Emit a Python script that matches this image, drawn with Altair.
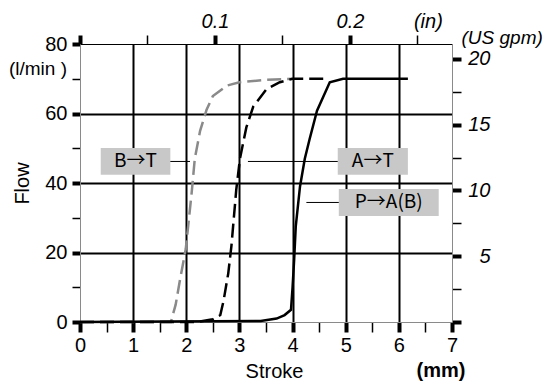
import altair as alt
import pandas as pd

# ---- curves (stroke in mm, flow in l/min) ----
bt_stroke = [0, 1.71, 1.80, 1.88, 1.99, 2.10, 2.16, 2.26, 2.38, 2.50, 2.76, 3.00, 3.50, 4.00]
bt_flow   = [0, 0,    5,    12,   21,   37,   47,   55,   61,   65,   68,   69,   69.7, 70]

at_stroke = [0, 2.20, 2.50, 2.64, 2.70, 2.79, 2.85, 2.94, 3.01, 3.13, 3.26, 3.51, 3.76, 4.00, 4.60]
at_flow   = [0, 0,    0.8,  2,    6,    14,   22,   38,   47,   56,   62,   67,   69,   70,   70]

pa_stroke = [0, 3.40, 3.70, 3.85, 3.97, 4.00, 4.03, 4.06, 4.14, 4.23, 4.32, 4.46, 4.70, 4.95, 6.17]
pa_flow   = [0, 0.3,  1.0,  2.0,  3.5,  10,   18,   27.5, 39,   47,   52.6, 60.8, 69,   70,   70]

# ---- annotations ----
label_text = ["B→T", "A→T", "P→A(B)"]
box_x0 = [0.39, 4.85, 4.87]
box_x1 = [1.70, 6.17, 6.75]
box_y0 = [42.4, 42.4, 30.5]
box_y1 = [50.1, 50.1, 38.3]
lead_x0 = [1.70, 3.16, 4.26]
lead_x1 = [2.07, 4.85, 4.87]
lead_y = [46.2, 46.2, 34.4]

# ---- axis ticks ----
mm_ticks = [0, 0.5, 1, 1.5, 2, 2.5, 3, 3.5, 4, 4.5, 5, 5.5, 6, 6.5, 7]
flow_ticks = [0, 10, 20, 30, 40, 50, 60, 70, 80]
inch_ticks = [0, 0.05, 0.1, 0.15, 0.2, 0.25]
inch_labels = ["", "", "0.1", "", "0.2", "(in)"]
gpm_ticks = [0, 2.5, 5, 7.5, 10, 12.5, 15, 17.5, 20]
gpm_labels = ["", "", "5", "", "10", "", "15", "", "20"]

MM_PER_IN = 25.4
L_PER_GAL = 3.78541
inch_ticks_mm = [v * MM_PER_IN for v in inch_ticks]
gpm_ticks_l = [v * L_PER_GAL for v in gpm_ticks]


def label_expr(vals, labels):
    expr = "''"
    for v, lab in zip(reversed(vals), reversed(labels)):
        expr = f"abs(datum.value - {v:.5f}) < 0.01 ? '{lab}' : ({expr})"
    return expr


def major_test(vals, flags):
    parts = [f"abs(datum.value - {v:.5f}) < 0.01" for v, m in zip(vals, flags) if m]
    return " || ".join(parts)


FONT = "Liberation Sans"
FS = 20
xs = alt.Scale(domain=[0, 7], nice=False, zero=False)
ys = alt.Scale(domain=[0, 80], nice=False, zero=False)

bt = pd.DataFrame({"s": bt_stroke, "f": bt_flow})
at = pd.DataFrame({"s": at_stroke, "f": at_flow})
pa = pd.DataFrame({"s": pa_stroke, "f": pa_flow})
ann = pd.DataFrame({"t": label_text, "x0": box_x0, "x1": box_x1, "y0": box_y0, "y1": box_y1,
                    "lx0": lead_x0, "lx1": lead_x1, "ly": lead_y})
ann["xc"] = (ann["x0"] + ann["x1"]) / 2
ann["yc"] = (ann["y0"] + ann["y1"]) / 2

bottom_axis = alt.Axis(
    orient="bottom", values=mm_ticks,
    labelExpr="datum.value % 1 == 0 ? format(datum.value, 'd') : ''",
    tickWidth={"condition": {"test": "datum.value % 1 == 0", "value": 4}, "value": 1.5},
    tickSize=10, tickColor="black", domainColor="#8a8a8a", domainWidth=1,
    grid=True, gridColor="black", gridWidth=2,
    gridOpacity={"condition": {"test": "datum.value % 1 == 0 && datum.value > 0 && datum.value < 7", "value": 1}, "value": 0},
    labelFontSize=FS, labelFont=FONT, labelColor="black", labelPadding=3, labelFlush=False,
    title="Stroke", titleFont=FONT, titleFontSize=FS, titleFontWeight="normal", titleColor="black",
    titleX=194, titleY=55, titleBaseline="alphabetic", titleAlign="center",
)
left_axis = alt.Axis(
    orient="left", values=flow_ticks,
    labelExpr="datum.value % 20 == 0 ? format(datum.value, 'd') : ''",
    tickWidth={"condition": {"test": "datum.value % 20 == 0", "value": 4}, "value": 1.5},
    tickSize=8, tickColor="black", domainColor="#8a8a8a", domainWidth=1,
    grid=True, gridColor="black", gridWidth=2,
    gridOpacity={"condition": {"test": "datum.value % 20 == 0 && datum.value > 0 && datum.value < 80", "value": 1}, "value": 0},
    labelFontSize=FS, labelFont=FONT, labelColor="black", labelPadding=5, labelFlush=False,
    title="Flow", titleFont=FONT, titleFontSize=FS, titleFontWeight="normal", titleColor="black",
    titleAngle=270, titleX=-58, titleY=139, titleAlign="center", titleBaseline="middle",
)
top_axis = alt.Axis(
    orient="top", values=inch_ticks_mm,
    labelExpr=label_expr(inch_ticks_mm, inch_labels),
    tickWidth={"condition": {"test": major_test(inch_ticks_mm, [i % 2 == 0 for i in range(len(inch_ticks))]), "value": 4}, "value": 1.5},
    tickSize=9, tickColor="black", domainColor="black", domainWidth=1, grid=False,
    labelFontSize=FS, labelFont=FONT, labelFontStyle="italic", labelColor="black", labelPadding=4, labelFlush=False,
    labelAlign={"condition": {"test": "datum.value > 6", "value": "left"}, "value": "center"},
    labelOffset={"condition": {"test": "datum.value > 6", "value": -4}, "value": 0},
    title=None,
)
right_axis = alt.Axis(
    orient="right", values=gpm_ticks_l,
    labelExpr=label_expr(gpm_ticks_l, gpm_labels),
    tickWidth={"condition": {"test": major_test(gpm_ticks_l, [i % 2 == 0 for i in range(len(gpm_ticks))]), "value": 4}, "value": 1.5},
    tickSize=9, tickColor="black", domainColor="#8a8a8a", domainWidth=1, grid=False,
    labelFontSize=FS, labelFont=FONT, labelFontStyle="italic", labelColor="black",
    labelAlign="right", labelPadding=29, labelFlush=False,
    title="(US gpm)", titleFont=FONT, titleFontSize=19, titleFontStyle="italic", titleFontWeight="normal",
    titleColor="black", titleAngle=0, titleX=9, titleY=-7, titleAlign="left", titleBaseline="middle",
)

bt_line = alt.Chart(bt).mark_line(color="#8a8a8a", strokeWidth=2.5, strokeDash=[14, 6]).encode(
    x=alt.X("s:Q", scale=xs, axis=bottom_axis),
    y=alt.Y("f:Q", scale=ys, axis=left_axis),
)
at_line = alt.Chart(at).mark_line(color="black", strokeWidth=2.5, strokeDash=[14, 6]).encode(
    x=alt.X("s:Q", scale=xs, axis=None),
    y=alt.Y("f:Q", scale=ys, axis=None),
)
pa_line = alt.Chart(pa).mark_line(color="black", strokeWidth=2.5).encode(
    x=alt.X("s:Q", scale=xs, axis=None),
    y=alt.Y("f:Q", scale=ys, axis=None),
)
boxes = alt.Chart(ann).mark_rect(color="#c8c8c8").encode(
    x=alt.X("x0:Q", scale=xs, axis=None), x2="x1:Q",
    y=alt.Y("y0:Q", scale=ys, axis=None), y2="y1:Q",
)
texts = alt.Chart(ann).mark_text(font="Noto Sans CJK JP", fontSize=19, color="black", align="center", baseline="middle").encode(
    x=alt.X("xc:Q", scale=xs, axis=None),
    y=alt.Y("yc:Q", scale=ys, axis=None),
    text="t:N",
)
leaders = alt.Chart(ann).mark_rule(color="black", strokeWidth=1).encode(
    x=alt.X("lx0:Q", scale=xs, axis=top_axis), x2="lx1:Q",
    y=alt.Y("ly:Q", scale=ys, axis=right_axis),
)
unit_l = alt.Chart(pd.DataFrame({"t": ["(l/min )"]})).mark_text(
    font=FONT, fontSize=19, color="black", align="right", baseline="middle"
).encode(x=alt.value(-13), y=alt.value(25), text="t:N")
unit_mm = alt.Chart(pd.DataFrame({"t": ["(mm)"]})).mark_text(
    font=FONT, fontSize=FS, fontWeight="bold", color="black", align="center", baseline="alphabetic"
).encode(x=alt.value(361), y=alt.value(55 + 278), text="t:N")

chart = alt.layer(bt_line, at_line, pa_line, boxes, leaders, texts, unit_l, unit_mm).resolve_axis(
    x="independent", y="independent"
).properties(
    width=372, height=278,
    padding={"left": 72, "top": 36, "right": 95, "bottom": 62},
    autosize=alt.AutoSizeParams(type="none"),
).configure_view(stroke=None).configure(font=FONT)

chart.save("out.html", embed_options={"renderer": "svg", "actions": False})
